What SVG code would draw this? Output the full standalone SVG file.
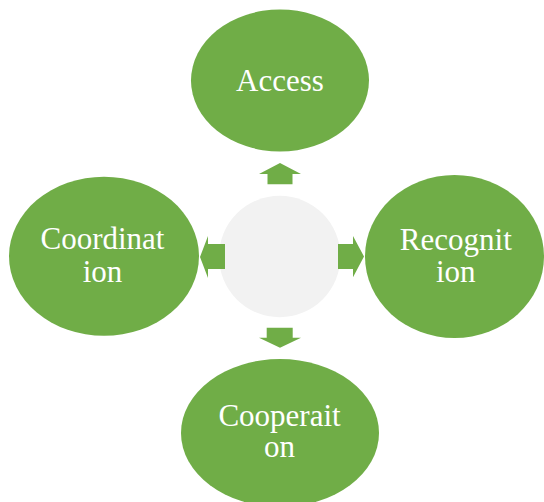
<svg xmlns="http://www.w3.org/2000/svg" width="544" height="502" viewBox="0 0 544 502">
<style>
.node{fill:#70AD47}
.lbl{fill:#FFFFFF;font-family:"Liberation Serif","Times New Roman",serif;font-size:31px;text-anchor:middle}
.arr{fill:#70AD47}
</style>
<rect width="544" height="502" fill="#FFFFFF"/>
<g id="center"><circle cx="279.7" cy="256.5" r="60.7" fill="#F2F2F2"/></g>
<g id="connectors">
<polygon class="arr" points="280,163 301,174 292.5,174 292.5,184.3 267.5,184.3 267.5,174 259,174"/>
<polygon class="arr" points="364,256.5 353,277.3 353,269 338,269 338,244 353,244 353,236"/>
<polygon class="arr" points="200,257 208,236 208,244 225,244 225,269 208,269 208,278"/>
<polygon class="arr" points="280,347.7 301,337.7 292.7,337.7 292.7,327.7 266.7,327.7 266.7,337.7 259,337.7"/>
</g>
<g id="access"><ellipse class="node" cx="280" cy="80.5" rx="89" ry="71"/><text class="lbl" x="280" y="90.7">Access</text></g>
<g id="coordination"><ellipse class="node" cx="104" cy="256.3" rx="95" ry="79.5"/><text class="lbl" x="102.5" y="249.3">Coordinat</text><text class="lbl" x="102.5" y="281.7">ion</text></g>
<g id="recognition"><ellipse class="node" cx="454.5" cy="256.5" rx="89.5" ry="81.5"/><text class="lbl" x="455.8" y="250">Recognit</text><text class="lbl" x="455.8" y="281.7">ion</text></g>
<g id="cooperation"><ellipse class="node" cx="280" cy="433" rx="99" ry="74"/><text class="lbl" x="279.5" y="426">Cooperait</text><text class="lbl" x="279.5" y="456.7">on</text></g>
</svg>
